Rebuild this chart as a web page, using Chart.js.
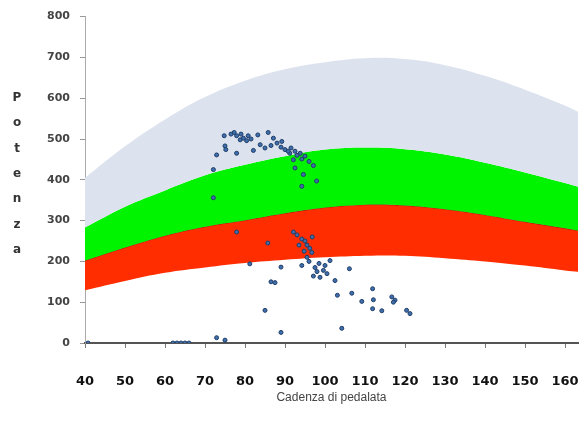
<!DOCTYPE html>
<html>
<head>
<meta charset="utf-8">
<script src="https://cdn.jsdelivr.net/npm/chart.js@4"></script>
<style>
  body { margin: 0; background: #fff; }
  #wrap { width: 583px; height: 428px; }
</style>
</head>
<body>
<div id="wrap"><canvas id="chart1" width="583" height="428"></canvas></div>
<script>
// cadence sample points for the zone curves
var cadence = [40, 50, 60, 70, 80, 90, 100, 110, 120, 130, 140, 150, 160, 165];
var greyTop = [405, 482, 548, 603, 643, 671, 688, 698, 696, 681, 655, 621, 582, 558];
var greenTop = [283, 334, 374, 411, 437, 458, 474, 479, 475, 462, 442, 418, 392, 378];
var redTop = [202, 234, 263, 285, 301, 318, 332, 339, 337, 328, 314, 297, 281, 273];
var redBottom = [129, 152, 172, 185, 196, 204, 210, 214, 214, 208, 200, 190, 178, 173];

// measured points (cadence, power)
var rideCad = [74.8, 77.3, 77.9, 78.8, 79.6, 80.4, 80.8, 83.2, 85.8, 75, 75.2, 72.9, 77.9, 82.1, 83.8, 85, 87.1, 88, 89.2, 90,
    91.2, 92.5, 93.8, 92.1, 94.2, 92.5, 97.1, 94.6, 97.9, 94.2, 72.1, 72.1, 76.5, 79, 81.5, 86.5, 89, 90.8, 93, 95, 96, 91.5,
    77.9, 85.7, 81.2, 89, 86.5, 87.5, 85, 89, 72.9, 75, 92.1, 93, 94.2, 95, 95.5, 96.2, 94.8, 96.7, 95.5, 94.2, 96, 97.1, 98.75,
    97.5, 98, 99.6, 100.5, 101.25, 102.5, 103.1, 104.2, 106.1, 106.7, 109.2, 111.9, 112.1, 111.9, 114.2, 116.7, 117.5, 117.1,
    120.4, 121.25, 100, 98.5, 96.8, 93.5, 40.75, 62, 63, 64, 65, 66];
var ridePow = [508, 516, 508, 498, 502, 496, 508, 510, 516, 483, 474, 461, 465, 472, 486, 478, 502, 490, 494, 474,
    465, 470, 465, 449, 451, 429, 435, 413, 397, 384, 425, 356, 512, 512, 500, 484, 480, 470, 460, 458, 445, 478,
    272, 245, 194, 186, 150, 148, 80, 26, 13, 7, 272, 265, 255, 250, 240, 232, 225, 222, 210, 190, 200, 164, 161,
    185, 175, 178, 170, 202, 153, 117, 36, 182, 122, 102, 133, 106, 84, 79, 113, 105, 100,
    80, 72, 190, 195, 260, 240, 0, 0, 0, 0, 0, 0];

var yTicks = [0, 100, 200, 300, 400, 500, 600, 700, 800];

function pairs(xs, ys) {
    return xs.map(function (x, i) { return { x: x, y: ys[i] }; });
}

function band(values, color, fill, border) {
    return {
        type: 'line',
        data: pairs(cadence, values),
        backgroundColor: color,
        borderColor: border || 'rgba(0,0,0,0)',
        borderWidth: border ? 1 : 0,
        pointRadius: 0,
        tension: 0.4,
        fill: fill,
        order: 1
    };
}

// stacked letters for the vertical axis title
var letterTitle = {
    id: 'letterTitle',
    afterDraw: function (chart) {
        var c = chart.ctx;
        var word = 'Potenza';
        c.save();
        c.fillStyle = '#333';
        c.font = 'bold 12px "DejaVu Sans"';
        c.textAlign = 'center';
        c.textBaseline = 'middle';
        for (var i = 0; i < word.length; i++) {
            c.fillText(word[i], 17, 98 + i * 25.3);
        }
        c.restore();
    }
};

var ctx1 = document.getElementById('chart1').getContext('2d');
var chart1 = new Chart(ctx1, {
    type: 'scatter',
    data: {
        datasets: [{
            label: 'Potenza',
            data: pairs(rideCad, ridePow),
            backgroundColor: '#3f6fae',
            borderColor: '#1f3d66',
            borderWidth: 1,
            pointRadius: 2,
            order: 0
        },
        band(greyTop, '#dce3ee', '+1'),
        band(greenTop, '#00f400', '+1'),
        band(redTop, '#ff2d00', '+1', 'rgba(110,20,0,0.7)'),
        band(redBottom, 'rgba(0,0,0,0)', false)]
    },
    options: {
        responsive: false,
        animation: false,
        layout: { padding: { top: 14, right: 0, left: 0, bottom: 0 } },
        plugins: {
            legend: { display: false },
            tooltip: { enabled: false }
        },
        scales: {
            x: {
                type: 'linear',
                min: 40,
                max: 163.25,
                afterFit: function (s) {
                    s.height = 85;
                    s.paddingLeft = 0;
                    s.paddingRight = 0;
                },
                border: { color: '#555', width: 2 },
                grid: { drawOnChartArea: false, tickLength: 5, color: '#777' },
                ticks: {
                    stepSize: 10,
                    includeBounds: false,
                    padding: 26,
                    color: '#111',
                    maxRotation: 0,
                    font: { family: 'DejaVu Sans', weight: 'bold', size: 13 }
                },
                title: {
                    display: true,
                    text: 'Cadenza di pedalata',
                    color: '#444',
                    font: { family: 'Liberation Sans', size: 12 },
                    padding: { top: 0, bottom: 23 }
                }
            },
            y: {
                min: 0,
                max: 800,
                afterFit: function (s) { s.width = 85; },
                afterBuildTicks: function (s) {
                    s.ticks = yTicks.map(function (v) { return { value: v }; });
                },
                border: { color: '#aaa', width: 1 },
                grid: { drawOnChartArea: false, tickLength: 5, color: '#999' },
                ticks: {
                    padding: 10,
                    color: '#444',
                    font: { family: 'DejaVu Sans', weight: 'bold', size: 11 }
                }
            }
        }
    },
    plugins: [letterTitle]
});
</script>
</body>
</html>
